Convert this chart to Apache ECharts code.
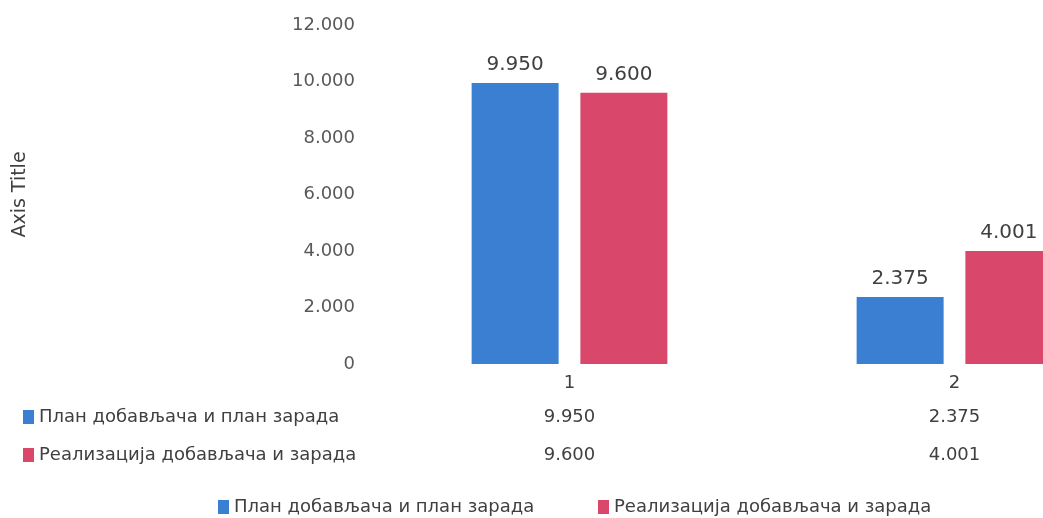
<!DOCTYPE html>
<html>
<head>
<meta charset="utf-8">
<script src="https://cdn.jsdelivr.net/npm/echarts@6/dist/echarts.min.js"></script>
<style>html,body{margin:0;padding:0;background:#fff;}#c{width:1043px;height:518px;}</style>
</head>
<body>
<div id="c"></div>
<script>
const categories = ['1', '2'];
const seriesNames = ['План добављача и план зарада', 'Реализација добављача и зарада'];
const planValues = [9950, 2375];
const realValues = [9600, 4001];
const yMin = 0, yMax = 12000, yStep = 2000;
const axisTitle = 'Axis Title';

function fmt(v) {
  const s = String(Math.round(v));
  return s.replace(/\B(?=(\d{3})+(?!\d))/g, '.');
}
const FONT = 'DejaVu Sans';
const legendText = { fontSize: 18, color: '#404040', fontFamily: FONT };
function oneLegend(name, left, top) {
  return {
    data: [name], left: left, top: top, orient: 'horizontal',
    itemWidth: 11, itemHeight: 14, icon: 'rect', itemGap: 5,
    textStyle: legendText
  };
}
const chart = echarts.init(document.getElementById('c'));
chart.setOption({
  animation: false,
  textStyle: { fontFamily: FONT },
  color: ['#3b7fd2', '#d9486a'],
  grid: { left: 377, top: 25, width: 770, height: 339, outerBoundsMode: 'none', containLabel: false },
  legend: [
    oneLegend(seriesNames[0], 18, 403),
    oneLegend(seriesNames[1], 18, 441),
    oneLegend(seriesNames[0], 213, 493),
    oneLegend(seriesNames[1], 593, 493)
  ],
  xAxis: {
    type: 'category', data: categories,
    axisLine: { show: false }, axisTick: { show: false },
    axisLabel: {
      margin: 4,
      formatter: function (val, idx) {
        return '{c|' + val + '}\n{v|' + fmt(planValues[idx]) + '}\n{v|' + fmt(realValues[idx]) + '}';
      },
      rich: {
        c: { fontSize: 18, lineHeight: 30, color: '#404040', fontFamily: FONT },
        v: { fontSize: 18, lineHeight: 38, color: '#404040', fontFamily: FONT }
      }
    }
  },
  yAxis: {
    type: 'value', min: yMin, max: yMax, interval: yStep,
    name: axisTitle, nameLocation: 'middle', nameRotate: 90, nameGap: 347,
    nameTextStyle: { fontSize: 19, color: '#404040', fontFamily: FONT },
    axisLine: { show: false }, axisTick: { show: false },
    splitLine: { show: false },
    axisLabel: { margin: 22, fontSize: 18, color: '#595959', fontFamily: FONT, formatter: fmt }
  },
  series: [
    {
      name: seriesNames[0], type: 'bar', data: planValues,
      barWidth: 87, barGap: '25%',
      label: { show: true, position: 'top', distance: 8, fontSize: 20, color: '#404040', fontFamily: FONT, formatter: p => fmt(p.value) }
    },
    {
      name: seriesNames[1], type: 'bar', data: realValues,
      barWidth: 87, barGap: '25%',
      label: { show: true, position: 'top', distance: 8, fontSize: 20, color: '#404040', fontFamily: FONT, formatter: p => fmt(p.value) }
    }
  ]
});
</script>
</body>
</html>
